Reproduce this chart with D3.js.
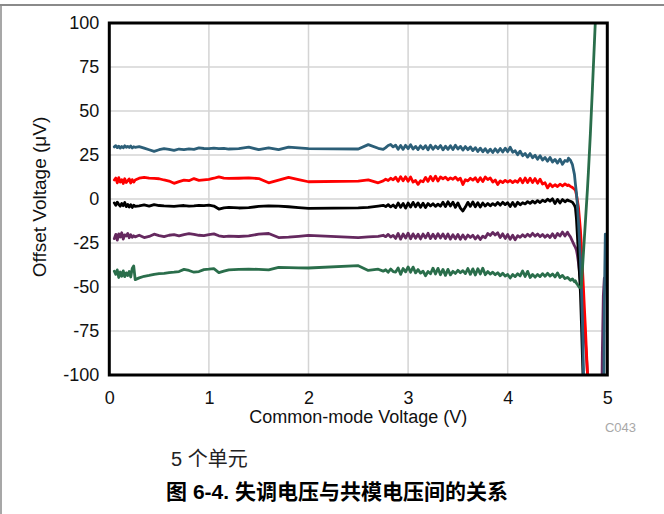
<!DOCTYPE html>
<html>
<head>
<meta charset="utf-8">
<script src="https://cdn.jsdelivr.net/npm/d3@7"></script>
<style>
  html, body { margin: 0; padding: 0; background: #ffffff; }
  svg { display: block; }
</style>
</head>
<body>
<svg id="chart" width="664" height="514"></svg>
<script>
// Common-mode voltage sweep (V) shared by every unit
const voltage = [
  0.05, 0.065, 0.08, 0.095, 0.11, 0.125, 0.14, 0.155, 0.17, 0.185,
  0.2, 0.215, 0.23, 0.245, 0.26, 0.3, 0.35, 0.4, 0.45, 0.5,
  0.55, 0.6, 0.65, 0.7, 0.75, 0.8, 0.85, 0.9, 0.95, 1.0,
  1.05, 1.1, 1.15, 1.2, 1.3, 1.4, 1.5, 1.6, 1.7, 1.8,
  1.9, 2.0, 2.5, 2.6, 2.7, 2.75, 2.775, 2.8, 2.825, 2.85,
  2.875, 2.9, 2.925, 2.95, 2.975, 3.0, 3.025, 3.05, 3.075, 3.1,
  3.125, 3.15, 3.175, 3.2, 3.225, 3.25, 3.275, 3.3, 3.325, 3.35,
  3.375, 3.4, 3.425, 3.45, 3.475, 3.5, 3.525, 3.55, 3.575, 3.6,
  3.625, 3.65, 3.675, 3.7, 3.725, 3.75, 3.775, 3.8, 3.825, 3.85,
  3.875, 3.9, 3.925, 3.95, 3.975, 4.0, 4.025, 4.05, 4.075, 4.1,
  4.125, 4.15, 4.175, 4.2, 4.225, 4.25, 4.275, 4.3, 4.325, 4.35,
  4.375, 4.4, 4.425, 4.45, 4.475, 4.5, 4.525, 4.55, 4.575, 4.6,
  4.61, 4.63, 4.65, 4.67, 4.68, 4.69, 4.70, 4.71, 4.72, 4.73,
  4.74, 4.75, 4.76, 4.77, 4.78, 4.79, 4.80, 4.81, 4.83, 4.85,
  4.87, 4.88, 4.89, 4.93, 4.94, 4.95, 4.96, 4.97, 4.98, 4.99
];

// Offset voltage (µV) of each unit; null where the unit is off-scale
const unit1 = [ // blue
  29.6, 30.3, 29.2, 30.0, 28.9, 29.8, 29.1, 30.2, 29.4, 29.9,
  29.3, 30.1, 29.0, 29.7, 29.4, 29.8, 28.9, 28.0, 27.1, 28.0,
  28.6, 28.2, 27.6, 28.4, 28.0, 28.5, 28.2, 29.0, 28.7, 28.6,
  28.9, 28.6, 28.8, 28.4, 28.6, 29.5, 28.0, 29.0, 28.0, 29.5,
  29.0, 28.6, 28.4, 30.9, 28.8, 28.2, 29.2, 30.4, 31.0, 29.6,
  30.6, 28.3, 30.4, 28.2, 30.5, 28.6, 30.8, 28.4, 29.9, 28.1,
  30.2, 28.5, 30.3, 28.0, 30.6, 28.3, 30.1, 28.6, 30.4, 27.9,
  30.0, 28.2, 30.3, 28.1, 30.5, 28.4, 29.9, 27.8, 29.8, 28.0,
  29.6, 27.5, 29.2, 27.0, 28.9, 26.8, 28.6, 26.5, 28.3, 26.4,
  28.5, 26.6, 28.7, 26.7, 28.9, 26.9, 29.4, 26.6, 27.4, 25.1,
  27.2, 24.6, 25.9, 23.8, 25.8, 23.4, 24.8, 22.6, 24.6, 22.2,
  23.6, 21.5, 23.6, 21.0, 22.5, 20.4, 22.6, 19.7, 21.9, 21.4,
  23.2, 22.0, 19.5, 14.0, 8.5, 3.5, -3.5, -12.5, -23.0, -34.0,
  -50.0, -68.0, -95.0, -120.0, null, null, null, null, null, null,
  null, null, null, null, null, null, -170.0, -60.0, -20.0, null
];

const unit2 = [ // red
  10.8, 11.9, 9.2, 12.1, 9.6, 11.0, 8.8, 11.5, 9.4, 10.3,
  11.4, 9.1, 11.0, 9.6, 10.8, 11.8, 12.3, 11.9, 11.7, 11.5,
  10.8, 10.2, 8.9, 9.9, 10.7, 10.4, 11.6, 10.6, 10.9, 11.2,
  11.8, 12.6, 11.9, 11.7, 11.8, 12.0, 11.6, 9.2, 10.7, 12.3,
  11.0, 9.8, 10.1, 10.9, 9.2, 10.3, 11.2, 10.5, 11.8, 10.9,
  12.4, 10.0, 12.7, 10.3, 12.6, 10.1, 12.5, 9.6, 10.5, 8.3,
  10.4, 9.8, 12.3, 10.0, 12.8, 10.4, 13.0, 10.2, 12.5, 11.5,
  12.4, 10.9, 12.0, 11.2, 12.4, 10.8, 11.8, 8.2, 11.0, 10.3,
  11.8, 10.7, 12.1, 9.8, 12.1, 9.9, 12.5, 11.0, 11.9, 9.6,
  10.8, 8.2, 10.3, 9.3, 10.6, 9.6, 10.5, 9.3, 10.4, 9.5,
  11.7, 9.2, 11.9, 9.4, 11.8, 9.3, 11.6, 9.0, 11.3, 8.5,
  9.2, 6.3, 8.5, 7.0, 8.1, 7.1, 8.4, 7.4, 8.6, 7.6,
  8.0, 7.2, 6.5, 5.5, 5.0, 2.5, -1.0, -4.5, -11.0, -17.5,
  -27.0, -39.0, -50.0, -62.0, -73.0, -86.0, -98.0, -112.0, -135.0, null,
  null, null, null, null, null, null, null, null, null, null
];

const unit3 = [ // black
  -2.2, -3.6, -1.8, -3.0, -4.1, -2.5, -3.8, -2.0, -4.3, -3.1,
  -4.6, -3.2, -4.8, -3.5, -4.2, -3.9, -3.4, -4.0, -3.2, -3.7,
  -3.9, -4.0, -4.2, -3.9, -3.7, -4.1, -3.9, -3.6, -3.8, -3.5,
  -4.0, -5.7, -5.0, -4.8, -5.1, -4.9, -4.2, -3.9, -4.0, -4.4,
  -4.9, -5.3, -5.0, -4.8, -4.0, -3.6, -4.3, -3.2, -4.5, -3.4,
  -4.9, -2.3, -4.7, -2.5, -5.2, -2.3, -4.6, -1.9, -4.4, -2.2,
  -4.7, -2.4, -4.8, -2.6, -4.0, -2.7, -4.2, -2.9, -4.1, -1.8,
  -4.3, -1.6, -4.0, -1.8, -4.7, -2.2, -5.2, -6.8, -4.6, -1.9,
  -4.2, -1.7, -4.4, -2.1, -4.6, -2.3, -4.0, -2.5, -3.9, -2.6,
  -3.6, -2.0, -3.5, -1.9, -3.2, -2.1, -4.3, -2.0, -4.2, -1.9,
  -3.3, -2.1, -2.8, -1.5, -2.5, -1.2, -2.3, -0.9, -2.0, -0.7,
  -1.5, -0.1, -1.2, 0.1, -2.6, -0.2, -2.3, -0.3, -1.6, -0.5,
  -0.9, -1.3, -1.8, -3.5, -5.0, -11.0, -21.0, -31.0, -42.0, -53.0,
  -70.0, -89.0, -108.0, -130.0, null, null, null, null, null, null,
  null, null, null, null, null, null, null, null, null, null
];

const unit4 = [ // purple
  -22.5, -20.1, -23.4, -19.8, -21.6, -19.2, -22.8, -20.4, -21.0, -19.6,
  -22.0, -20.3, -21.8, -20.9, -21.5, -20.6, -21.9, -21.3, -20.0, -20.8,
  -21.4, -20.6, -20.3, -20.9, -20.2, -19.7, -20.1, -20.6, -20.8, -20.3,
  -19.8, -20.9, -21.4, -21.1, -21.3, -21.0, -20.0, -19.6, -21.9, -21.7,
  -21.2, -20.7, -22.0, -21.5, -21.2, -20.6, -21.4, -20.1, -21.6, -20.7,
  -22.4, -19.6, -22.8, -19.9, -22.2, -19.4, -22.6, -19.8, -22.3, -20.0,
  -22.7, -19.9, -22.1, -19.5, -22.5, -20.0, -22.4, -19.7, -22.2, -19.9,
  -22.5, -19.9, -22.8, -20.3, -22.6, -20.1, -22.9, -20.4, -22.7, -20.5,
  -21.9, -20.6, -22.7, -20.9, -23.0, -21.1, -22.0, -19.6, -20.7, -19.0,
  -20.5, -19.2, -21.9, -19.8, -22.4, -20.2, -22.9, -20.6, -23.2, -20.8,
  -21.8, -20.3, -21.5, -20.0, -21.2, -19.5, -21.1, -19.9, -21.4, -20.2,
  -21.7, -20.4, -21.9, -19.8, -22.0, -19.6, -21.0, -18.8, -21.0, -18.9,
  -20.0, -21.5, -24.0, -26.5, -27.5, -29.0, -32.0, -36.0, -41.0, -46.0,
  -52.0, -59.0, -66.0, -74.0, -81.0, -89.0, -98.0, -108.0, -130.0, null,
  null, null, null, null, -140.0, -88.0, -55.0, -45.0, null, null
];

const unit5 = [ // green
  -41.0, -42.8, -40.3, -44.6, -41.5, -43.9, -40.8, -44.1, -42.0, -43.5,
  -41.2, -44.3, -39.5, -38.0, -45.8, -44.8, -43.9, -43.4, -42.8, -42.4,
  -42.2, -41.8, -41.6, -41.2, -40.0, -40.6, -41.6, -41.2, -40.1, -39.9,
  -39.6, -41.8, -41.0, -40.3, -40.0, -39.8, -40.0, -40.3, -38.8, -39.0,
  -39.1, -39.2, -37.9, -40.6, -39.9, -41.0, -40.2, -41.6, -39.8, -41.2,
  -41.5, -39.2, -42.8, -39.5, -41.4, -38.6, -41.6, -38.7, -42.0, -40.1,
  -42.1, -41.0, -43.6, -41.2, -42.5, -39.3, -42.6, -39.4, -43.0, -40.0,
  -43.4, -40.0, -43.1, -41.1, -42.3, -40.5, -41.9, -40.7, -42.4, -39.5,
  -42.8, -39.7, -43.2, -39.6, -42.6, -39.3, -43.0, -41.2, -42.7, -41.6,
  -43.0, -41.9, -43.6, -42.2, -43.8, -42.9, -44.9, -42.9, -44.1, -42.5,
  -43.7, -40.9, -44.0, -41.1, -44.6, -42.9, -44.4, -42.9, -44.1, -42.4,
  -43.9, -42.2, -43.8, -42.6, -44.3, -42.0, -44.6, -43.4, -45.2, -44.6,
  -45.0, -46.2, -45.4, -47.0, -46.5, -47.8, -48.6, -49.5, -50.2, -50.5,
  -49.5, -40.0, -31.0, -22.0, -13.0, -4.0, 5.0, 15.0, 37.0, 62.0,
  88.0, 101.0, 114.0, null, null, null, null, null, null, null
];

const units = [unit4, unit3, unit2, unit1, unit5];
const unitColors = ["#65295f", "#000000", "#ff0000", "#2c5f78", "#2a6e4b"];

const xTicks = [0, 1, 2, 3, 4, 5];
const yTicks = [-100, -75, -50, -25, 0, 25, 50, 75, 100];

const xTitle = "Common-mode Voltage (V)";
const yTitle = "Offset Voltage (\u03bcV)";
const plotCode = "C043";
const unitNote = "5 个单元";
const caption = "图 6-4. 失调电压与共模电压间的关系";

const latin = "'Liberation Sans', Arial, 'Noto Sans CJK SC', sans-serif";

const svg = d3.select("#chart");

// page frame rules
svg.append("line").attr("x1", 0).attr("x2", 664).attr("y1", 5).attr("y2", 5)
  .attr("stroke", "#8a8a8a").attr("stroke-width", 2);
svg.append("line").attr("x1", 1).attr("x2", 1).attr("y1", 5).attr("y2", 514)
  .attr("stroke", "#8a8a8a").attr("stroke-width", 1.5);

const x = d3.scaleLinear().domain([0, 5]).range([109.3, 607.3]);
const y = d3.scaleLinear().domain([-100, 100]).range([375, 23]);

// grid
const grid = svg.append("g").attr("stroke", "#d4d4d4").attr("stroke-width", 1.5);
grid.selectAll("line.gx").data(xTicks.slice(1, -1)).join("line")
  .attr("x1", d => x(d)).attr("x2", d => x(d)).attr("y1", y(100)).attr("y2", y(-100));
grid.selectAll("line.gy").data(yTicks.slice(1, -1)).join("line")
  .attr("x1", x(0)).attr("x2", x(5)).attr("y1", d => y(d)).attr("y2", d => y(d));

// clip for traces
svg.append("clipPath").attr("id", "plotClip").append("rect")
  .attr("x", x(0)).attr("y", y(100)).attr("width", x(5) - x(0)).attr("height", y(-100) - y(100));

const line = d3.line()
  .defined(d => d[1] !== null)
  .x(d => x(d[0]))
  .y(d => y(d[1]));

const traces = svg.append("g").attr("clip-path", "url(#plotClip)");
units.forEach((vals, i) => {
  const pts = voltage.map((v, k) => [v, vals[k]]);
  traces.append("path")
    .attr("d", line(pts))
    .attr("fill", "none")
    .attr("stroke", unitColors[i])
    .attr("stroke-width", 2.8)
    .attr("stroke-linejoin", "round")
    .attr("stroke-linecap", "round");
});

// plot frame
svg.append("rect")
  .attr("x", x(0)).attr("y", y(100))
  .attr("width", x(5) - x(0)).attr("height", y(-100) - y(100))
  .attr("fill", "none").attr("stroke", "#000").attr("stroke-width", 3);

// axes
const yAxis = d3.axisLeft(y).tickValues(yTicks).tickSize(0).tickPadding(10)
  .tickFormat(d => String(d));
const gy = svg.append("g").attr("transform", `translate(${x(0)},0)`).call(yAxis);
const xAxis = d3.axisBottom(x).tickValues(xTicks).tickSize(0).tickPadding(16)
  .tickFormat(d => String(d));
const gx = svg.append("g").attr("transform", `translate(0,${y(-100)})`).call(xAxis);
[gx, gy].forEach(g => {
  g.select(".domain").remove();
  g.selectAll("text").attr("font-family", latin).attr("font-size", 18).attr("fill", "#111");
});

// titles
svg.append("text").attr("x", (x(0) + x(5)) / 2).attr("y", 423)
  .attr("text-anchor", "middle").attr("font-family", latin).attr("font-size", 18)
  .attr("fill", "#111").text(xTitle);
svg.append("text").attr("transform", `translate(46,${(y(100) + y(-100)) / 2 - 2}) rotate(-90)`)
  .attr("text-anchor", "middle").attr("font-family", latin).attr("font-size", 19)
  .attr("fill", "#111").text(yTitle);
svg.append("text").attr("x", 636).attr("y", 431.5).attr("text-anchor", "end")
  .attr("font-family", latin).attr("font-size", 13).attr("fill", "#a8a8a8").text(plotCode);

svg.append("text").attr("x", 171).attr("y", 466)
  .attr("font-family", latin).attr("font-size", 20).attr("fill", "#222").text(unitNote);
svg.append("text").attr("x", 337).attr("y", 499).attr("text-anchor", "middle")
  .attr("font-family", latin).attr("font-size", 21).attr("font-weight", "bold")
  .attr("fill", "#000").text(caption);
</script>
</body>
</html>
